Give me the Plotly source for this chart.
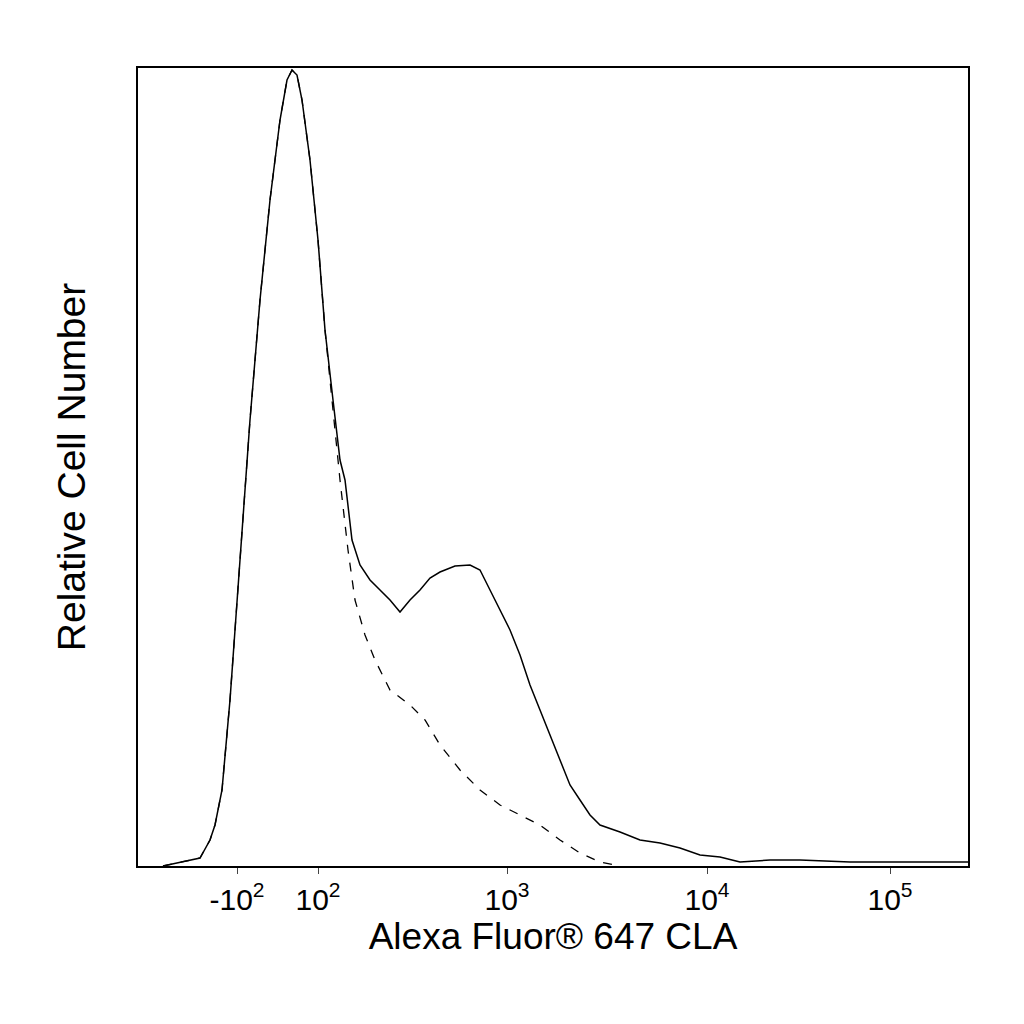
import plotly.graph_objects as go

# channel positions (display scale) and relative counts
solid_ch = [25,42,62,72,77,84,92,102,112,122,132,142,149,154,159,164,172,180,187,195,202,207,214,222,232,242,252,262,272,282,292,302,317,332,342,352,362,372,382,392,402,412,422,432,442,452,462,482,502,522,542,562,582,602,632,662,712,762,830]
solid_ct = [0,4,8,26,41,76,166,306,446,566,666,746,786,796,791,766,706,626,536,466,406,386,326,301,286,276,266,254,266,276,288,294,300,301,296,276,256,236,211,181,156,131,106,81,66,51,41,34,26,23,18,11,9,4,6,6,4,4,4]
dash_ch = [25,42,62,72,77,84,92,102,112,122,132,142,149,154,159,164,172,180,187,195,202,210,217,227,237,252,272,287,302,322,342,362,382,402,422,442,462,482]
dash_ct = [0,4,8,26,41,76,166,306,446,566,666,746,786,796,791,766,706,626,536,456,386,316,266,231,206,176,161,146,121,96,76,61,51,41,26,13,4,0]

tick_ch = [99,180,369,569,752]
tick_lbl = ["-10<sup>2</sup>","10<sup>2</sup>","10<sup>3</sup>","10<sup>4</sup>","10<sup>5</sup>"]

fig = go.Figure()
fig.add_trace(go.Scatter(x=dash_ch, y=dash_ct, mode="lines", line=dict(color="black", width=1.3, dash="dash")))
fig.add_trace(go.Scatter(x=solid_ch, y=solid_ct, mode="lines", line=dict(color="black", width=1.5)))
fig.update_layout(
    width=1024, height=1024, showlegend=False,
    plot_bgcolor="white", paper_bgcolor="white",
    margin=dict(l=130, r=64, t=60, b=166),
    font=dict(family="Liberation Sans, Arial", color="black", size=30),
)
fig.update_xaxes(range=[0,830], tickvals=tick_ch, ticktext=tick_lbl, ticks="outside", ticklen=6,
                 showline=True, linecolor="black", linewidth=2, mirror=True, showgrid=False, zeroline=False,
                 title=dict(text="Alexa Fluor® 647 CLA", font=dict(size=37), standoff=6))
fig.update_yaxes(range=[0,798], showticklabels=False, ticks="", showline=True, linecolor="black", linewidth=2,
                 mirror=True, showgrid=False, zeroline=False,
                 title=dict(text="Relative Cell Number", font=dict(size=39), standoff=38))
fig.write_html("out.html")
